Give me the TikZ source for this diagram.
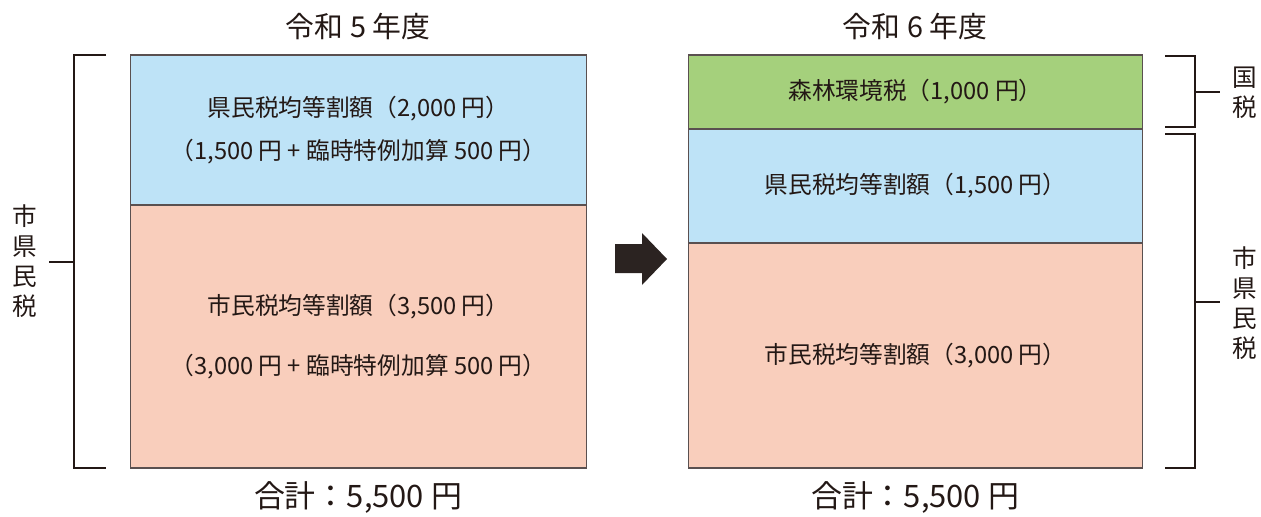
\documentclass[tikz,border=0pt]{standalone}
\usepackage{fontspec}
\setmainfont{Noto Sans CJK JP}
\usetikzlibrary{positioning}

\definecolor{kenblue}{HTML}{BEE3F7}
\definecolor{shisalmon}{HTML}{F9CEBC}
\definecolor{moriGreen}{HTML}{A5D07C}
\definecolor{edgegray}{HTML}{5A5050}
\definecolor{inkdark}{HTML}{231815}
\definecolor{arrowdark}{HTML}{2B2321}

\tikzset{
  taxbox/.style={draw=edgegray, line width=0.6pt, outer sep=0pt, inner sep=0pt,
                 align=center, text=inkdark},
  yeartitle/.style={text=inkdark, font=\fontsize{16.4}{19}\selectfont},
  totaltext/.style={text=inkdark, font=\fontsize{17.6}{20}\selectfont},
  sidelabel/.style={text=inkdark, align=center, font=\fontsize{14}{17}\selectfont},
  brk/.style={draw=inkdark, line width=1.6pt}
}

\begin{document}
\begin{tikzpicture}[x=0.02cm, y=-0.02cm]
  \useasboundingbox (0,0) rectangle (1261,517);

  % R5
  \node[yeartitle] (t5) at (358,27) {令和 5 年度};
  \node[taxbox, fill=kenblue, minimum width=9.14cm, minimum height=3.0cm,
        font=\fontsize{13.5}{24.4}\selectfont] (ken5) at (358.5,130)
        {県民税均等割額（2,000 円）\\（1,500 円 + 臨時特例加算 500 円）};
  \node[taxbox, fill=shisalmon, minimum width=9.14cm, minimum height=5.26cm,
        font=\fontsize{13.5}{34}\selectfont] (shi5) at (358.5,336.5)
        {市民税均等割額（3,500 円）\\（3,000 円 + 臨時特例加算 500 円）};
  \node[totaltext] (sum5) at (358,497) {合計：5,500 円};

  % bracket left
  \draw[brk] (106,55) -- (74,55) -- (74,468) -- (106,468);
  \node[sidelabel] (shiken5) at (25,261) {市\\県\\民\\税};
  \draw[brk] (74,262) -- (49,262);

  % arrow
  \fill[arrowdark] (615,244) -- (642,244) -- (642,233) -- (667,259)
        -- (642,285) -- (642,273) -- (615,273) -- cycle;

  % R6
  \node[yeartitle] (t6) at (915,27) {令和 6 年度};
  \node[taxbox, fill=moriGreen, minimum width=9.1cm, minimum height=1.48cm,
        font=\fontsize{13.5}{16}\selectfont] (mori6) at (915.5,92)
        {森林環境税（1,000 円）};
  \node[taxbox, fill=kenblue, minimum width=9.1cm, minimum height=2.28cm,
        font=\fontsize{13.5}{16}\selectfont] (ken6) at (915.5,186)
        {県民税均等割額（1,500 円）};
  \node[taxbox, fill=shisalmon, minimum width=9.1cm, minimum height=4.5cm,
        font=\fontsize{13.5}{16}\selectfont] (shi6) at (915.5,355.5)
        {市民税均等割額（3,000 円）};
  \node[totaltext] (sum6) at (915,497) {合計：5,500 円};

  % brackets right
  \draw[brk] (1165,56) -- (1195,56) -- (1195,127) -- (1165,127);
  \draw[brk] (1195,92) -- (1220,92);
  \node[sidelabel] (koku6) at (1245,93) {国\\税};
  \draw[brk] (1165,134) -- (1195,134) -- (1195,468) -- (1165,468);
  \draw[brk] (1195,302) -- (1220,302);
  \node[sidelabel] (shiken6) at (1245,303) {市\\県\\民\\税};
\end{tikzpicture}
\end{document}
